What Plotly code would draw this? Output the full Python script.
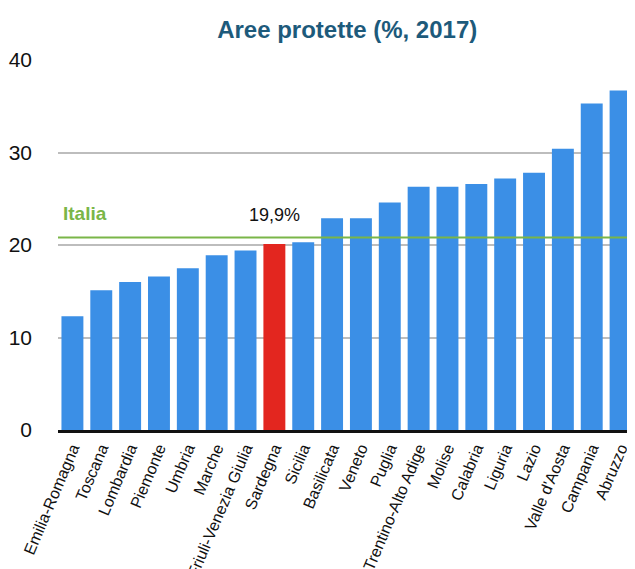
import plotly.graph_objects as go

regions = ["Emilia-Romagna", "Toscana", "Lombardia", "Piemonte", "Umbria", "Marche",
           "Friuli-Venezia Giulia", "Sardegna", "Sicilia", "Basilicata", "Veneto", "Puglia",
           "Trentino-Alto Adige", "Molise", "Calabria", "Liguria", "Lazio", "Valle d'Aosta",
           "Campania", "Abruzzo"]
values = [12.3, 15.1, 16.0, 16.6, 17.5, 18.9, 19.4, 20.1, 20.3, 22.9, 22.9, 24.6,
          26.3, 26.3, 26.6, 27.2, 27.8, 30.4, 35.3, 36.7]
highlight = "Sardegna"
highlight_label = "19,9%"
italia_value = 20.8
y_ticks = [0, 10, 20, 30, 40]

blue = "#3b8fe6"
red = "#e3261f"
colors = [red if r == highlight else blue for r in regions]

font_family = "Liberation Sans, Arial, Helvetica, sans-serif"

fig = go.Figure()
fig.add_trace(go.Bar(x=regions, y=values, marker=dict(color=colors, line=dict(width=0)),
                     hoverinfo="x+y"))

fig.add_shape(type="line", xref="paper", yref="y", x0=0, x1=1, y0=italia_value, y1=italia_value,
              line=dict(color="#7ab648", width=2), layer="above")

fig.add_annotation(xref="paper", yref="y", x=0.006, y=italia_value, text="<b>Italia</b>",
                   showarrow=False, xanchor="left", yanchor="middle", yshift=24,
                   font=dict(size=19, color="#7ab648", family=font_family))
fig.add_annotation(xref="x", yref="y", x=highlight, y=italia_value, text=highlight_label,
                   showarrow=False, xanchor="center", yanchor="middle", yshift=23,
                   font=dict(size=18, color="#111111", family=font_family))

# page body has an 8px margin, so the figure is sized/offset to fit the window
fig.update_layout(
    width=627, height=561,
    margin=dict(l=50, r=0, t=52, b=139, autoexpand=False),
    paper_bgcolor="white", plot_bgcolor="white",
    showlegend=False,
    bargap=0.24,
    title=dict(text="<b>Aree protette (%, 2017)</b>", x=0.541, xanchor="center",
               y=0.961, yanchor="middle",
               font=dict(size=24, color="#1d5a7b", family=font_family)),
    font=dict(family=font_family, color="#111111"),
)
fig.update_yaxes(range=[0, 40], tickvals=y_ticks, showgrid=True, gridcolor="#bdbdbd",
                 gridwidth=2, zeroline=False, showline=False, automargin=False,
                 tickfont=dict(size=21, color="#111111"), ticklabelstandoff=25)
fig.update_xaxes(type="category", tickangle=-67, showgrid=False, showline=True,
                 linecolor="#111111", linewidth=2.5, ticks="", automargin=False,
                 tickfont=dict(size=16, color="#111111"))

fig.write_html("out.html")
